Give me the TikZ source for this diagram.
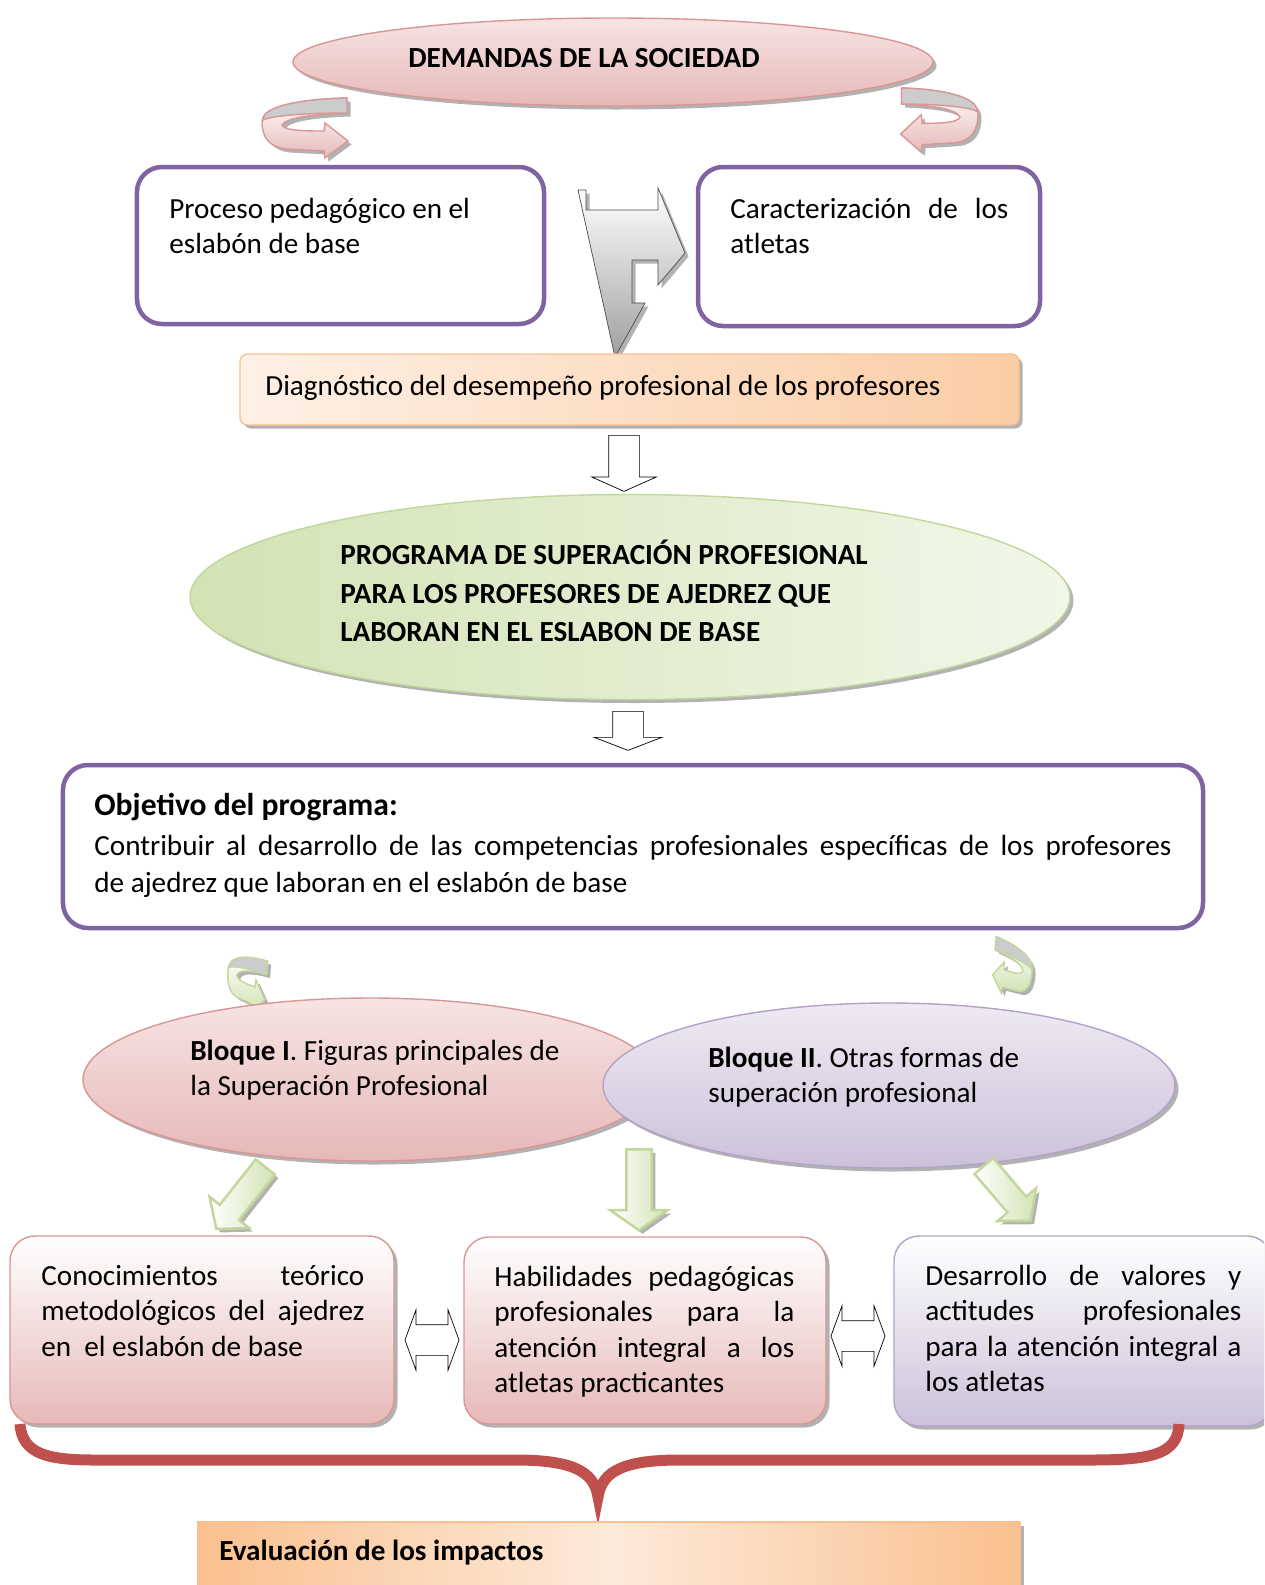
\documentclass[tikz,border=0pt]{standalone}
\usepackage{fontspec}
\setmainfont{Carlito}
\usetikzlibrary{shapes.geometric,shapes.arrows,shadows}

\definecolor{purpleline}{HTML}{8064A2}
\definecolor{pinkline}{HTML}{D99694}
\definecolor{pinkfill}{HTML}{E6B9B8}
\definecolor{pinklight}{HTML}{F6E4E3}
\definecolor{lilacline}{HTML}{B3A2C7}
\definecolor{lilacfill}{HTML}{CCC1DA}
\definecolor{lilaclight}{HTML}{EEEAF3}
\definecolor{greenline}{HTML}{C3D69B}
\definecolor{greenfill}{HTML}{D2E3B4}
\definecolor{greenlight}{HTML}{F1F6E8}
\definecolor{orangeline}{HTML}{FAC090}
\definecolor{orangefill}{HTML}{FAC08F}
\definecolor{orangelight}{HTML}{FDEADA}
\definecolor{bracered}{HTML}{C0504D}

\newcommand{\basesize}{\fontsize{16.6}{20.2}\selectfont}

\tikzset{
	% shadow and box styles
	soft shadow/.style={drop shadow={shadow xshift=0.7mm,shadow yshift=-0.7mm,opacity=0.3,fill=black}},
	frame box/.style={rectangle,rounded corners=5mm,draw=purpleline,line width=0.9mm,fill=white},
	pink box/.style={rectangle,rounded corners=5mm,draw=pinkline,thick,top color=white,bottom color=pinkfill,soft shadow},
	lilac box/.style={rectangle,rounded corners=5mm,draw=lilacline,thick,top color=white,bottom color=lilacfill,soft shadow},
	orange box/.style={rectangle,draw=orangeline,thick,soft shadow},
	% ovals
	pink oval/.style={ellipse,inner sep=0,draw=pinkline,thick,top color=pinklight,bottom color=pinkfill,soft shadow},
	lilac oval/.style={ellipse,inner sep=0,draw=lilacline,thick,top color=lilaclight,bottom color=lilacfill,soft shadow},
	green oval/.style={ellipse,inner sep=0,draw=greenline,thick,left color=greenfill,right color=greenlight,soft shadow},
	% texts
	txt/.style={anchor=north west,inner sep=0,align=left},
	one line/.style={anchor=west,inner sep=0},
	% arrows (inner ysep gives half the shaft)
	hollow arrow/.style={single arrow,draw=black,fill=white,thin,inner xsep=0,inner ysep=3mm,single arrow head indent=0,anchor=tail},
	green arrow/.style={single arrow,draw=greenline,line width=0.5mm,left color=white,right color=greenfill,inner xsep=0,single arrow head indent=0,anchor=tail,soft shadow},
	both arrow/.style={double arrow,draw=black,fill=white,thin,inner xsep=0,inner ysep=3mm,double arrow head indent=0},
	pics/curl arrow/.style 2 args={code={
		\path[draw=#1,thick,top color=white,bottom color=#2,soft shadow] (85,0) .. controls (40,1) and (0,8) .. (0,24) .. controls (0,40) and (8,49) .. (24,51) -- (62,53) -- (63,60) -- (86,43) -- (63,25) -- (62,33) .. controls (45,33) and (22,33) .. (20,27) .. controls (25,19) and (55,16) .. (85,15) -- cycle;
		\path[draw=#1,thick,fill=gray!40] (85,0) .. controls (40,1) and (0,8) .. (1,22) .. controls (12,17) and (50,15) .. (85,15) -- cycle;
	}}
}

\begin{document}
\begin{tikzpicture}[x=0.2mm,y=-0.2mm,font=\basesize]
\useasboundingbox (0,0) rectangle (1264,1585);
\clip (0,0) rectangle (1264,1585);

% top level
\node(dem) at (613, 62) [pink oval, minimum width=128mm, minimum height=17.6mm] {};
\node(demtxt) at (408, 58) [one line, font=\basesize\bfseries] {DEMANDAS DE LA SOCIEDAD};
\pic (cl) at (262, 98) {curl arrow={pinkline}{pinkfill}};
\pic[xscale=-0.9, yscale=1.07] (cr) at (978, 88) {curl arrow={pinkline}{pinkfill}};

\node(proc) at (340.5, 245.5) [frame box, minimum width=81.4mm, minimum height=31.4mm] {};
\node(proctxt) at (169, 193) [txt] {\strut Proceso pedagógico en el\\eslabón de base};
\node(car) at (869, 246.5) [frame box, minimum width=68.4mm, minimum height=31.8mm] {};
\node(cartxt) at (730, 193) [txt] {\strut\makebox[55.6mm][s]{Caracterización de los}\\atletas};

% bent arrow between the two boxes
\path[draw=gray!60!black, top color=white, bottom color=gray!75, soft shadow]
	(578,190) -- (586,190) -- (586,210) -- (658,210) -- (658,188) -- (685,253) -- (658,285)
	-- (658,260) -- (632,260) -- (632,303) -- (645,303) -- (615,357) -- cycle;

\node(diag) at (629.5, 389.5) [orange box, rounded corners=1.5mm, left color=orangelight!70!white, right color=orangefill!80!white, minimum width=155.8mm, minimum height=14.2mm] {};
\node(diagtxt) at (265, 388) [one line] {Diagnóstico del desempeño profesional de los profesores};

\node(a1) at (624, 435) [hollow arrow, rotate=-90, minimum height=11.2mm, minimum width=12.8mm, single arrow head extend=3.4mm, single arrow tip angle=132] {};

\node(prog) at (630, 597) [green oval, minimum width=176mm, minimum height=41mm] {};
\node(progtxt) at (340, 537.5) [txt, font=\fontsize{16.6}{21.9}\selectfont\bfseries] {\strut PROGRAMA DE SUPERACIÓN PROFESIONAL\\PARA LOS PROFESORES DE AJEDREZ QUE\\LABORAN EN EL ESLABON DE BASE};

\node(a2) at (628, 711) [hollow arrow, rotate=-90, minimum height=7.8mm, minimum width=13.4mm, single arrow head extend=3.7mm, single arrow tip angle=138] {};

% objective
\node(obj) at (633, 846.5) [frame box, minimum width=228mm, minimum height=32.6mm] {};
\node(objhead) at (94, 807) [one line, font=\fontsize{18}{22}\selectfont\bfseries] {Objetivo del programa:};
\node(objtxt) at (94, 830) [txt, font=\fontsize{16.6}{20.7}\selectfont] {\strut\makebox[215.4mm][s]{Contribuir al desarrollo de las competencias profesionales específicas de los profesores}\\de ajedrez que laboran en el eslabón de base};

\pic[xscale=0.45, yscale=0.9, rotate=-10] (gl) at (230, 948) {curl arrow={greenline}{greenfill}};
\pic[xscale=-0.45, yscale=0.9, rotate=10] (gr) at (1034, 950) {curl arrow={greenline}{greenfill}};

% the two blocks
\node(b1) at (370, 1079.5) [pink oval, minimum width=114.8mm, minimum height=32.6mm] {};
\node(b1txt) at (190, 1035) [txt] {\strut\textbf{Bloque I}. Figuras principales de\\la Superación Profesional};
\node(b2) at (889, 1085.5) [lilac oval, minimum width=114.4mm, minimum height=33mm] {};
\node(b2txt) at (708, 1042) [txt] {\strut\textbf{Bloque II}. Otras formas de\\superación profesional};

\node(g1) at (266, 1166) [green arrow, rotate=-128.3, inner ysep=2.2mm, minimum height=15.8mm, minimum width=9.6mm, single arrow head extend=2.6mm, single arrow tip angle=100] {};
\node(g2) at (639, 1148) [green arrow, rotate=-90, inner ysep=2.3mm, minimum height=16.2mm, minimum width=11mm, single arrow head extend=3.2mm, single arrow tip angle=110] {};
\node(g3) at (983, 1165) [green arrow, rotate=-49.5, inner ysep=2.2mm, minimum height=14.4mm, minimum width=9.6mm, single arrow head extend=2.6mm, single arrow tip angle=100] {};

% results
\node(lb) at (202, 1330) [pink box, minimum width=76.8mm, minimum height=37.6mm] {};
\node(lbtxt) at (41, 1260) [txt] {\strut\makebox[64.6mm][s]{Conocimientos teórico}\\\makebox[64.6mm][s]{metodológicos del ajedrez}\\en\ \ el eslabón de base};
\node(mb) at (645, 1330.5) [pink box, minimum width=72.4mm, minimum height=37.4mm] {};
\node(mbtxt) at (494, 1261) [txt] {\strut\makebox[60mm][s]{Habilidades pedagógicas}\\\makebox[60mm][s]{profesionales para la}\\\makebox[60mm][s]{atención integral a los}\\atletas practicantes};
\node(rb) at (1083, 1331) [lilac box, minimum width=75.6mm, minimum height=38mm] {};
\node(rbtxt) at (925, 1260) [txt] {\strut\makebox[63.2mm][s]{Desarrollo de valores y}\\\makebox[63.2mm][s]{actitudes profesionales}\\\makebox[63.2mm][s]{para la atención integral a}\\los atletas};

\node(d1) at (432, 1340) [both arrow, minimum height=10.8mm, minimum width=12mm, double arrow head extend=3mm, double arrow tip angle=140] {};
\node(d2) at (858, 1336) [both arrow, minimum height=10.8mm, minimum width=12mm, double arrow head extend=3mm, double arrow tip angle=140] {};

% brace to the evaluation
\draw[bracered, line width=2.2mm] (20,1424) .. controls (22,1455) and (50,1460) .. (95,1460) -- (515,1460)
	.. controls (570,1460) and (594,1470) .. (598,1497) .. controls (602,1470) and (626,1460) .. (680,1460)
	-- (1090,1460) .. controls (1150,1460) and (1178,1455) .. (1179,1424);

\node(ev) at (609, 1561) [orange box, left color=orangefill, right color=orangefill, middle color=orangelight, minimum width=164.4mm, minimum height=15.6mm] {};
\node(evtxt) at (219, 1553) [one line, font=\basesize\bfseries] {Evaluación de los impactos};

\end{tikzpicture}
\end{document}
